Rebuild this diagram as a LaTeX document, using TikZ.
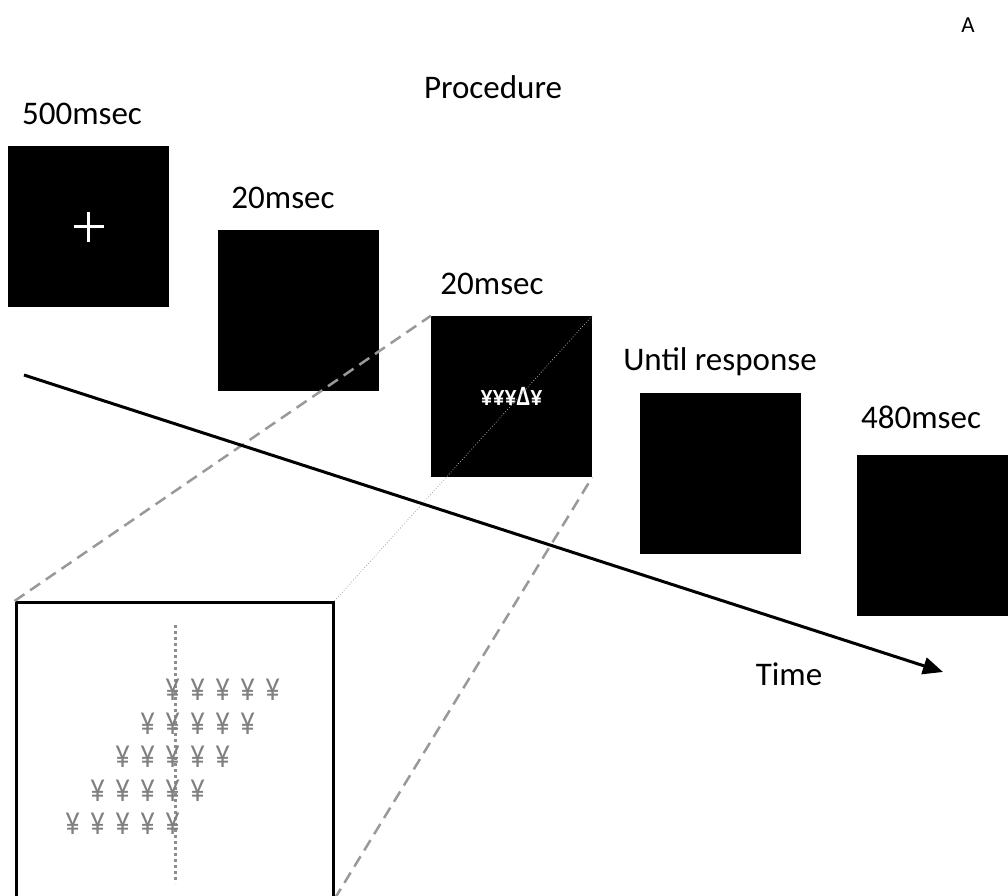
\documentclass[tikz,border=0pt]{standalone}
\usepackage{fontspec}
\setmainfont{Carlito}
\usetikzlibrary{arrows.meta,positioning}

\begin{document}
\begin{tikzpicture}[x=1pt, y=-1pt, screen/.style={rectangle,fill=black,minimum size=161pt,inner sep=0pt}, caption/.style={font=\fontsize{33}{40}\selectfont,anchor=base,inner sep=0pt}, link/.style={draw=black!40,line width=2.5pt,dash pattern=on 12pt off 7pt}, yen/.style={text=black!50,font=\fontsize{41}{46}\selectfont,inner sep=0pt}]%draw=red,
\clip (0,0) rectangle (1008,895);
\begin{scope}
\node[screen] (s1) at (88.5,226.5) {};
\node[screen] (s2) at (298.5,310.5) {};
\node[screen] (s3) at (511.5,396.5) {};
\node[screen] (s4) at (720.5,473.5) {};
\node[screen] (s5) at (937.5,535.5) {};
\node[draw,line width=3pt,minimum width=317pt,minimum height=295pt,inner sep=0pt] (zoom) at (174.5,750) {};
\end{scope}
\begin{scope}[every node/.style={caption}]
\node (A) at (968,32) {\fontsize{23}{28}\selectfont A};
\node (proc) at (493,98) {Procedure};
\node (d1) at (82,124) {500msec};
\node (d2) at (283,208) {20msec};
\node (d3) at (492,294) {20msec};
\node (d4) at (720,370) {Until response};
\node (d5) at (921,428) {480msec};
\node (time) at (789,685) {Time};
\end{scope}
% fixation cross
\draw[white,line width=2.5pt] ([xshift=-15pt]s1.center) -- ([xshift=15pt]s1.center);
\draw[white,line width=2.5pt] ([yshift=-15pt]s1.center) -- ([yshift=15pt]s1.center);
\node[text=white,font=\bfseries\fontsize{28}{32}\selectfont,inner sep=0pt] (probe) at (s3) {\scalebox{0.85}[1]{¥¥¥Δ¥}};
% enlarged view of the probe screen
\draw[black!45,line width=3pt,dash pattern=on 3pt off 3pt] (175,625) -- (175,883);
\foreach \r in {0,...,4}
  \foreach \c in {0,...,4}
    \node[yen] (y\r\c) at (173-25*\r+25*\c,690+33.5*\r) {\scalebox{0.72}[1]{¥}};
\begin{scope}
\draw[link] (zoom.north west) -- (s3.north west);
\draw[link] (zoom.south east) -- (s3.south east);
\draw[black!35,line width=0.8pt,dotted] (zoom.north east) -- (s3.north east);
\end{scope}
\coordinate (t0) at (24,375);
\coordinate (t1) at (943,672);
\draw[line width=3pt,-{Triangle[length=20pt,width=17pt]}] (t0) -- (t1);
\end{tikzpicture}
\end{document}
